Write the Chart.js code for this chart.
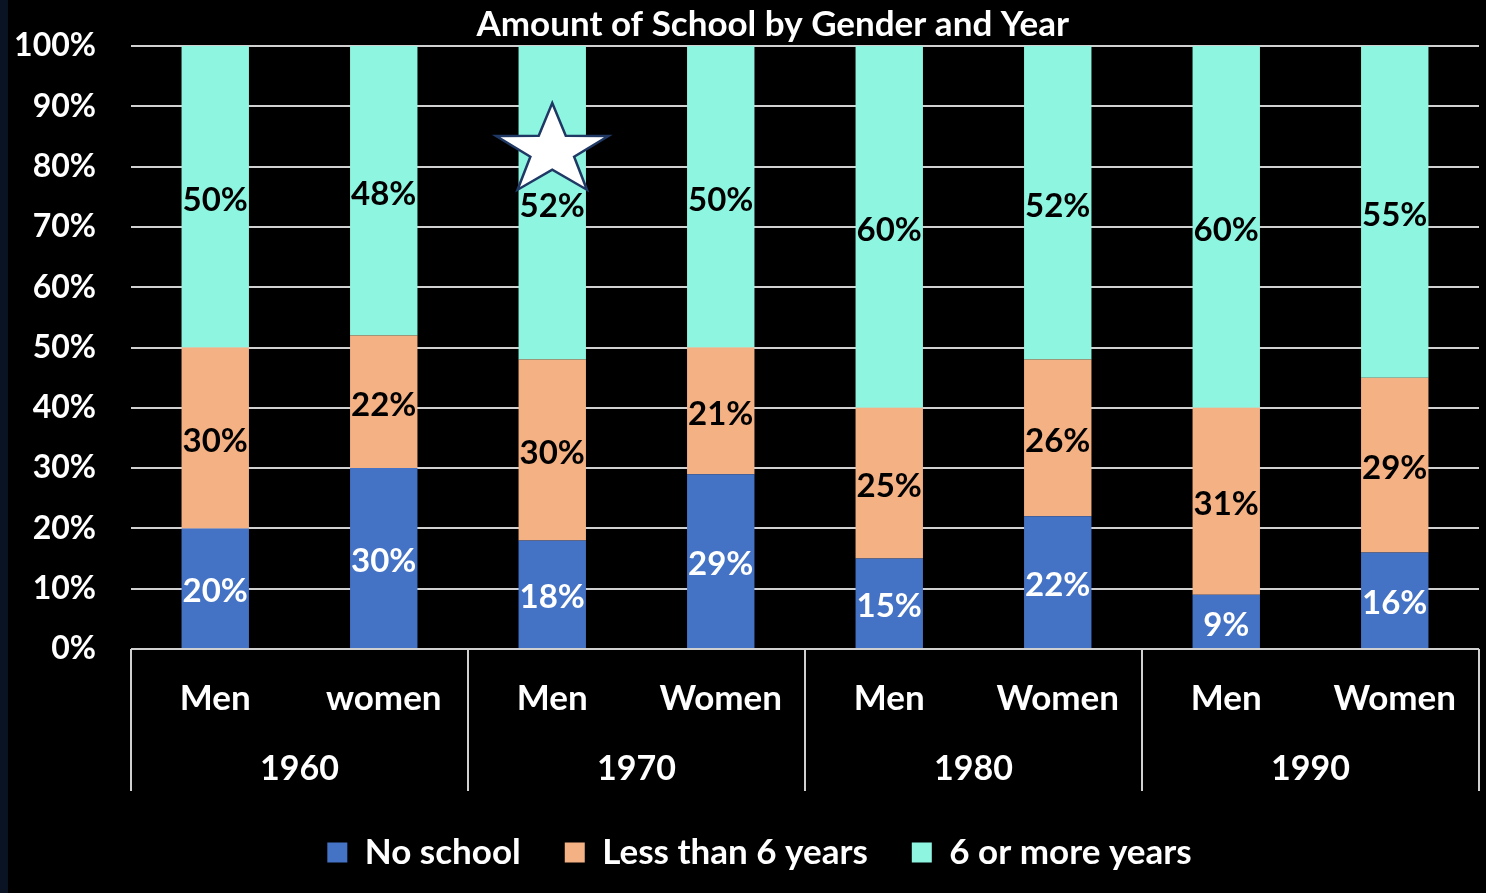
<!DOCTYPE html>
<html>
<head>
<meta charset="utf-8">
<script src="https://cdn.jsdelivr.net/npm/chart.js@4.4.1/dist/chart.umd.min.js"></script>
<style>
html,body{margin:0;padding:0;background:#000;overflow:hidden}
#wrap{width:1486px;height:893px;position:relative}
</style>
</head>
<body>
<div id="wrap"><canvas id="c" width="1486" height="893"></canvas></div>
<script>
// ---- data ----
const subCategories = ['Men', 'women', 'Men', 'Women', 'Men', 'Women', 'Men', 'Women'];
const years = ['1960', '1970', '1980', '1990'];
const noSchool = [20, 30, 18, 29, 15, 22, 9, 16];
const lessThan6 = [30, 22, 30, 21, 25, 26, 31, 29];
const sixOrMore = [50, 48, 52, 50, 60, 52, 60, 55];
const seriesNames = ['No school', 'Less than 6 years', '6 or more years'];
const titleText = 'Amount of School by Gender and Year';
const starCategory = 2;
const starValue = 82.6;

// ---- styles ----
const FONT = 'Lato';
const colors = ['#4472c4', '#f4b183', '#8ef5e0'];
const labelColors = ['#ffffff', '#000000', '#000000'];
const gridColor = '#d0d0d0';
const LEGEND_SHIFT = 20;

const bgPlugin = {
  id: 'bg',
  beforeDraw(chart) {
    const ctx = chart.ctx;
    ctx.save();
    ctx.fillStyle = '#000000';
    ctx.fillRect(0, 0, chart.width, chart.height);
    ctx.fillStyle = '#0a1324';
    ctx.fillRect(0, 0, 8, chart.height);
    ctx.restore();
  },
  afterLayout(chart) {
    if (chart.legend) {
      chart.legend.left += LEGEND_SHIFT;
      chart.legend.right += LEGEND_SHIFT;
    }
  }
};

const labelPlugin = {
  id: 'segLabels',
  afterDatasetsDraw(chart) {
    const ctx = chart.ctx;
    ctx.save();
    ctx.font = 'bold 33px ' + FONT;
    ctx.textAlign = 'center';
    ctx.textBaseline = 'middle';
    chart.data.datasets.forEach((ds, di) => {
      const meta = chart.getDatasetMeta(di);
      meta.data.forEach((el, i) => {
        const p = el.getProps(['x', 'y', 'base'], true);
        ctx.fillStyle = labelColors[di];
        ctx.fillText(ds.data[i] + '%', p.x, (p.y + p.base) / 2 + 3.5);
      });
    });
    // star
    const xs = chart.scales.x, ys = chart.scales.y;
    const cx = xs.getPixelForValue(starCategory);
    const cy = ys.getPixelForValue(starValue);
    const Rx = 59, Ry = 48, ratio = 0.39;
    ctx.beginPath();
    for (let k = 0; k < 10; k++) {
      const ang = -Math.PI / 2 + k * Math.PI / 5;
      const f = (k % 2 === 0) ? 1 : ratio;
      const px = cx + Math.cos(ang) * Rx * f;
      const py = cy + Math.sin(ang) * Ry * f;
      if (k === 0) ctx.moveTo(px, py); else ctx.lineTo(px, py);
    }
    ctx.closePath();
    ctx.fillStyle = '#ffffff';
    ctx.fill();
    ctx.lineWidth = 2.5;
    ctx.strokeStyle = '#1f3864';
    ctx.lineJoin = 'miter';
    ctx.stroke();
    ctx.restore();
  },
  afterDraw(chart) {
    const ctx = chart.ctx;
    const xs = chart.scales.x;
    const area = chart.chartArea;
    const bottom = chart.scales.x2.bottom;
    const half = (xs.getPixelForValue(1) - xs.getPixelForValue(0)) / 2;
    ctx.save();
    ctx.strokeStyle = gridColor;
    ctx.lineWidth = 2;
    for (let g = 0; g <= years.length; g++) {
      const px = g < years.length ? xs.getPixelForValue(g * 2) - half : xs.getPixelForValue(subCategories.length - 1) + half;
      ctx.beginPath();
      ctx.moveTo(px, area.bottom);
      ctx.lineTo(px, bottom);
      ctx.stroke();
    }
    // title
    ctx.font = 'bold 35px ' + FONT;
    ctx.fillStyle = '#ffffff';
    ctx.textAlign = 'center';
    ctx.textBaseline = 'middle';
    ctx.fillText(titleText, chart.width * 0.52, 25);
    ctx.restore();
  }
};

new Chart(document.getElementById('c'), {
  type: 'bar',
  data: {
    labels: subCategories,
    datasets: [
      { label: seriesNames[0], data: noSchool, backgroundColor: colors[0] },
      { label: seriesNames[1], data: lessThan6, backgroundColor: colors[1] },
      { label: seriesNames[2], data: sixOrMore, backgroundColor: colors[2] }
    ]
  },
  options: {
    responsive: false,
    animation: false,
    devicePixelRatio: 1,
    layout: { padding: { top: 46, left: 0, right: 7, bottom: 13 } },
    datasets: { bar: { categoryPercentage: 1, barPercentage: 0.4, borderWidth: 0 } },
    plugins: {
      title: { display: false },
      tooltip: { enabled: false },
      legend: {
        position: 'bottom',
        labels: {
          color: '#ffffff',
          font: { family: FONT, size: 35, weight: 'bold' },
          boxWidth: 20,
          boxHeight: 20,
          padding: 44
        }
      }
    },
    scales: {
      x: {
        stacked: true,
        offset: true,
        weight: 0,
        grid: { display: false, drawTicks: false },
        border: { display: false },
        ticks: { color: '#ffffff', font: { family: FONT, size: 35, weight: 'bold' }, padding: 29, maxRotation: 0, autoSkip: false },
        afterFit(s) { s.height = 71; }
      },
      x2: {
        type: 'category',
        position: 'bottom',
        labels: years,
        offset: true,
        weight: 1,
        grid: { display: false, drawTicks: false },
        border: { display: false },
        ticks: { color: '#ffffff', font: { family: FONT, size: 34, weight: 'bold' }, padding: 29, maxRotation: 0, autoSkip: false },
        afterFit(s) { s.height = 71; }
      },
      y: {
        stacked: true,
        min: 0,
        max: 100,
        grid: { color: gridColor, lineWidth: 2, drawTicks: false },
        border: { display: false },
        ticks: {
          stepSize: 10,
          autoSkip: false,
          color: '#ffffff',
          font: { family: FONT, size: 32, weight: 'bold', lineHeight: 0.6 },
          padding: 35,
          callback: v => v + '%'
        },
        afterFit(s) { s.width = 131; }
      }
    }
  },
  plugins: [bgPlugin, labelPlugin]
});
</script>
</body>
</html>
